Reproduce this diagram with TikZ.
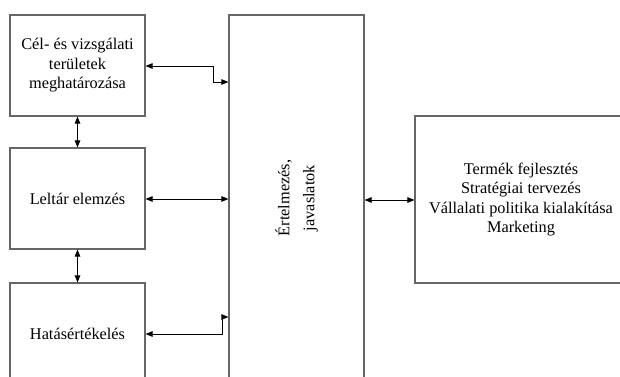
\documentclass[tikz,border=0pt]{standalone}
\usepackage{fontspec}
\setmainfont{Liberation Serif}
\usetikzlibrary{arrows.meta}
\begin{document}
\begin{tikzpicture}[x=1pt,y=-1pt,
  box/.style={draw=black!60,line width=1.1pt,fill=white,inner sep=0pt,align=center,
    font=\fontsize{16.3}{19.5}\selectfont},
  conn/.style={line width=0.9pt,{Triangle[length=7pt,width=5.5pt]}-{Triangle[length=7pt,width=5.5pt]}}]
\useasboundingbox (0,0) rectangle (620,376);
\fill[white] (0,0) rectangle (620,376);
\clip (0,0) rectangle (620,376);
\node[box,minimum width=135pt,minimum height=101pt] (b1) at (77.5,65.5) {Cél- és vizsgálati\\területek\\meghatározása};
\node[box,minimum width=135pt,minimum height=101pt] (b2) at (77.5,198.5) {Leltár elemzés};
\node[box,minimum width=135pt,minimum height=102pt] (b3) at (77.5,334) {Hatásértékelés};
\node[box,minimum width=135pt,minimum height=366pt] (big) at (296.5,198) {};
\node[rotate=90,align=center,font=\fontsize{16.3}{25}\selectfont] (bigt) at (big.center) {Értelmezés,\\javaslatok};
\node[box,minimum width=212pt,minimum height=167pt] (r) at (521,199.5) {Termék fejlesztés\\Stratégiai tervezés\\Vállalati politika kialakítása\\Marketing};
\coordinate (j1) at (213,66);
\coordinate (j1b) at (213,82);
\coordinate (j3) at (222,334);
\coordinate (j3b) at (222,317);
\draw[conn] (b1.east |- j1) -- (j1) -- (j1b) -- (big.west |- j1b);
\draw[conn] (b2.east |- 0,199) -- (big.west |- 0,199);
\draw[conn] (b3.east |- j3) -- (j3) -- (j3b) -- (big.west |- j3b);
\draw[conn] (b1.south) -- (b2.north);
\draw[conn] (b2.south) -- (b3.north);
\draw[conn] (big.east |- 0,200) -- (r.west |- 0,200);
\end{tikzpicture}
\end{document}
